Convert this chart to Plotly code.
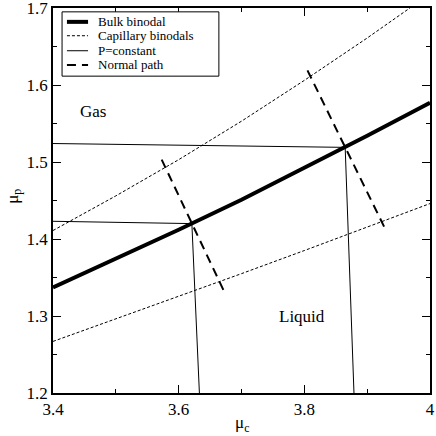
import plotly.graph_objects as go

# bulk binodal (thick solid)
bulk_mu_c = [3.4, 3.5, 3.6, 3.7, 3.8, 3.9, 4.0]
bulk_mu_p = [1.337, 1.374, 1.412, 1.451, 1.492, 1.534, 1.577]

# capillary binodals (thin dashed)
cap_hi_mu_c = [3.4, 3.5, 3.6, 3.7, 3.8, 3.9, 3.968]
cap_hi_mu_p = [1.411, 1.456, 1.503, 1.553, 1.606, 1.661, 1.70]
cap_lo_mu_c = [3.4, 3.5, 3.6, 3.7, 3.8, 3.9, 4.0]
cap_lo_mu_p = [1.267, 1.296, 1.326, 1.355, 1.385, 1.415, 1.446]

# P=constant paths
p1_mu_c = [3.4, 3.621, 3.633]
p1_mu_p = [1.423, 1.420, 1.2]
p2_mu_c = [3.4, 3.865, 3.879]
p2_mu_p = [1.524, 1.519, 1.2]

# normal paths
n1_mu_c = [3.573, 3.674]
n1_mu_p = [1.503, 1.329]
n2_mu_c = [3.805, 3.927]
n2_mu_p = [1.619, 1.416]

x_ticks = [3.4, 3.6, 3.8, 4.0]
x_ticktext = ['3.4', '3.6', '3.8', '4']
y_ticks = [1.2, 1.3, 1.4, 1.5, 1.6, 1.7]

legend_names = ['Bulk binodal', 'Capillary binodals', 'P=constant', 'Normal path']

FONT = 'Liberation Serif'
BLACK = 'black'

BULK = dict(color=BLACK, width=4)
CAP = dict(color=BLACK, width=1, dash='3px,2px')
PCONST = dict(color=BLACK, width=1)
NORMAL = dict(color=BLACK, width=2, dash='9px,6px')

fig = go.Figure()
fig.add_trace(go.Scatter(x=bulk_mu_c, y=bulk_mu_p, mode='lines', line=BULK))
fig.add_trace(go.Scatter(x=cap_hi_mu_c, y=cap_hi_mu_p, mode='lines', line=CAP))
fig.add_trace(go.Scatter(x=cap_lo_mu_c, y=cap_lo_mu_p, mode='lines', line=CAP))
fig.add_trace(go.Scatter(x=p1_mu_c, y=p1_mu_p, mode='lines', line=PCONST))
fig.add_trace(go.Scatter(x=p2_mu_c, y=p2_mu_p, mode='lines', line=PCONST))
fig.add_trace(go.Scatter(x=n1_mu_c, y=n1_mu_p, mode='lines', line=NORMAL))
fig.add_trace(go.Scatter(x=n2_mu_c, y=n2_mu_p, mode='lines', line=NORMAL))

fig.add_annotation(x=3.464, y=1.565, text='Gas', showarrow=False,
                   font=dict(family=FONT, size=17, color=BLACK))
fig.add_annotation(x=3.797, y=1.30, text='Liquid', showarrow=False,
                   font=dict(family=FONT, size=17, color=BLACK))

# axis titles
fig.add_annotation(xref='paper', yref='paper', x=0.50, y=-0.113, text='μ<sub>c</sub>',
                   showarrow=False, font=dict(family=FONT, size=17, color=BLACK))
fig.add_annotation(xref='paper', yref='paper', x=-0.14, y=0.51, text='μ<sub>p</sub>',
                   textangle=-90, showarrow=False, font=dict(family=FONT, size=17, color=BLACK))

# legend box drawn by hand to get the compact xmgrace look
fig.add_shape(type='rect', xref='paper', yref='paper', x0=0.024, x1=0.440, y0=0.823, y1=0.990,
              line=dict(color=BLACK, width=1), fillcolor='white', layer='above')
legend_styles = [BULK, CAP, PCONST, NORMAL]
legend_y = [0.964, 0.928, 0.889, 0.852]
for name, style, ly in zip(legend_names, legend_styles, legend_y):
    fig.add_shape(type='line', xref='paper', yref='paper', x0=0.037, x1=0.093, y0=ly, y1=ly,
                  line=style, layer='above')
    fig.add_annotation(xref='paper', yref='paper', x=0.115, y=ly, text=name, showarrow=False,
                       xanchor='left', yanchor='middle',
                       font=dict(family=FONT, size=13, color=BLACK))

axis_common = dict(showline=True, linecolor=BLACK, linewidth=1.5, mirror='ticks',
                   ticks='inside', ticklen=8, tickcolor=BLACK, showgrid=False,
                   zeroline=False, automargin=False, ticklabeloverflow='allow',
                   tickfont=dict(family=FONT, size=17, color=BLACK))

fig.update_xaxes(range=[3.4, 4.0], tickmode='array', tickvals=x_ticks, ticktext=x_ticktext,
                 minor=dict(ticks='inside', tickvals=[3.5, 3.7, 3.9], ticklen=4,
                            tickcolor=BLACK),
                 **axis_common)
fig.update_yaxes(range=[1.2, 1.7], tickmode='array', tickvals=y_ticks,
                 minor=dict(ticks='inside', tickvals=[1.25, 1.35, 1.45, 1.55, 1.65],
                            ticklen=4, tickcolor=BLACK),
                 **axis_common)

fig.update_layout(width=436, height=436, plot_bgcolor='white', paper_bgcolor='white',
                  margin=dict(l=53, r=6, t=8, b=43), showlegend=False)

# the page body has an 8px default margin; drop it so the figure sits at the window corner
fig.write_html("out.html", config={'displayModeBar': False},
               post_script="document.body.style.margin='0';")
